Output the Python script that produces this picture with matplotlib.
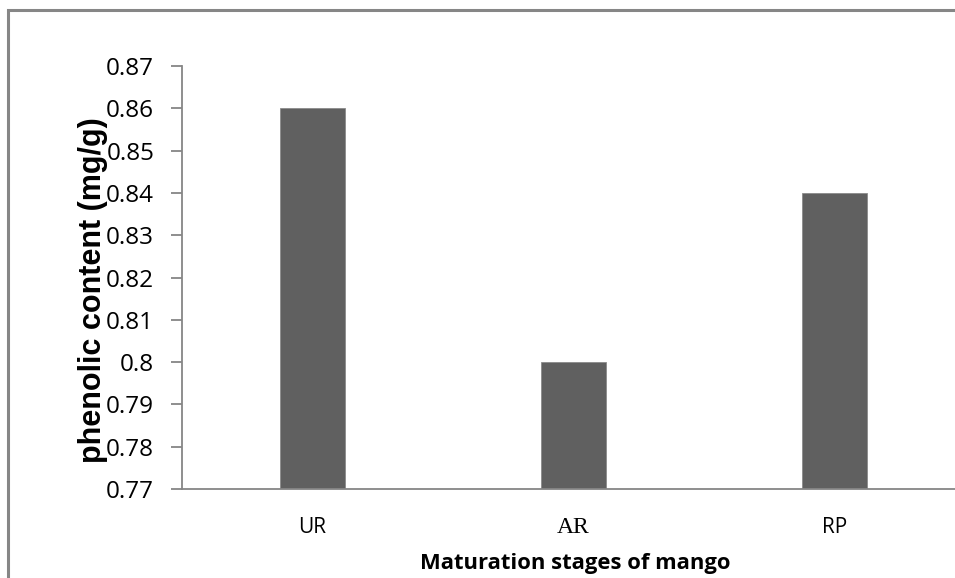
import matplotlib.pyplot as plt
from matplotlib.patches import Rectangle

stages = ['UR', 'AR', 'RP']
phenolic = [0.86, 0.80, 0.84]
y_ticks = [0.77, 0.78, 0.79, 0.80, 0.81, 0.82, 0.83, 0.84, 0.85, 0.86, 0.87]
y_labels = ['0.77', '0.78', '0.79', '0.8', '0.81', '0.82', '0.83', '0.84', '0.85', '0.86', '0.87']

plt.rcParams['font.family'] = ['Open Sans', 'DejaVu Sans']

fig = plt.figure(figsize=(9.55, 5.78), dpi=100)

# outer chart frame (cut off on the right and at the bottom)
fig.patches.append(Rectangle((8 / 955, -0.1), 1.2, 1 - 10 / 578 + 0.1,
                             transform=fig.transFigure, fill=False,
                             edgecolor='#868686', linewidth=2.2))

ax = fig.add_axes([182 / 955, 89 / 578, 783 / 955, 423 / 578])
x = range(len(stages))
ax.bar(x, phenolic, width=0.25, color='#606060', edgecolor='#8a8a8a', linewidth=0.6)

ax.set_xlim(-0.5, 2.5)
ax.set_ylim(0.77, 0.87)
ax.set_yticks(y_ticks)
ax.set_yticklabels(y_labels, fontsize=17.5)
ax.set_xticks(list(x))
ax.set_xticklabels(stages, fontsize=15)
ax.get_xticklabels()[1].set_family('Liberation Serif')
ax.get_xticklabels()[1].set_fontsize(17)

for s in ['top', 'right']:
    ax.spines[s].set_visible(False)
for s in ['left', 'bottom']:
    ax.spines[s].set_color('#868686')
    ax.spines[s].set_linewidth(1.3)
ax.tick_params(axis='y', length=8, width=1.3, color='#868686', pad=12)
ax.tick_params(axis='x', length=0, pad=20)

fig.text(93.5 / 955, 1 - 290 / 578, 'phenolic content (mg/g)', rotation=90,
         ha='center', va='center', fontsize=22, fontweight='bold',
         family='Liberation Sans')
fig.text(575 / 955, 1 - 564 / 578, 'Maturation stages of mango',
         ha='center', va='center', fontsize=15.8, fontweight='bold')

fig.savefig('out.png', dpi=100)
